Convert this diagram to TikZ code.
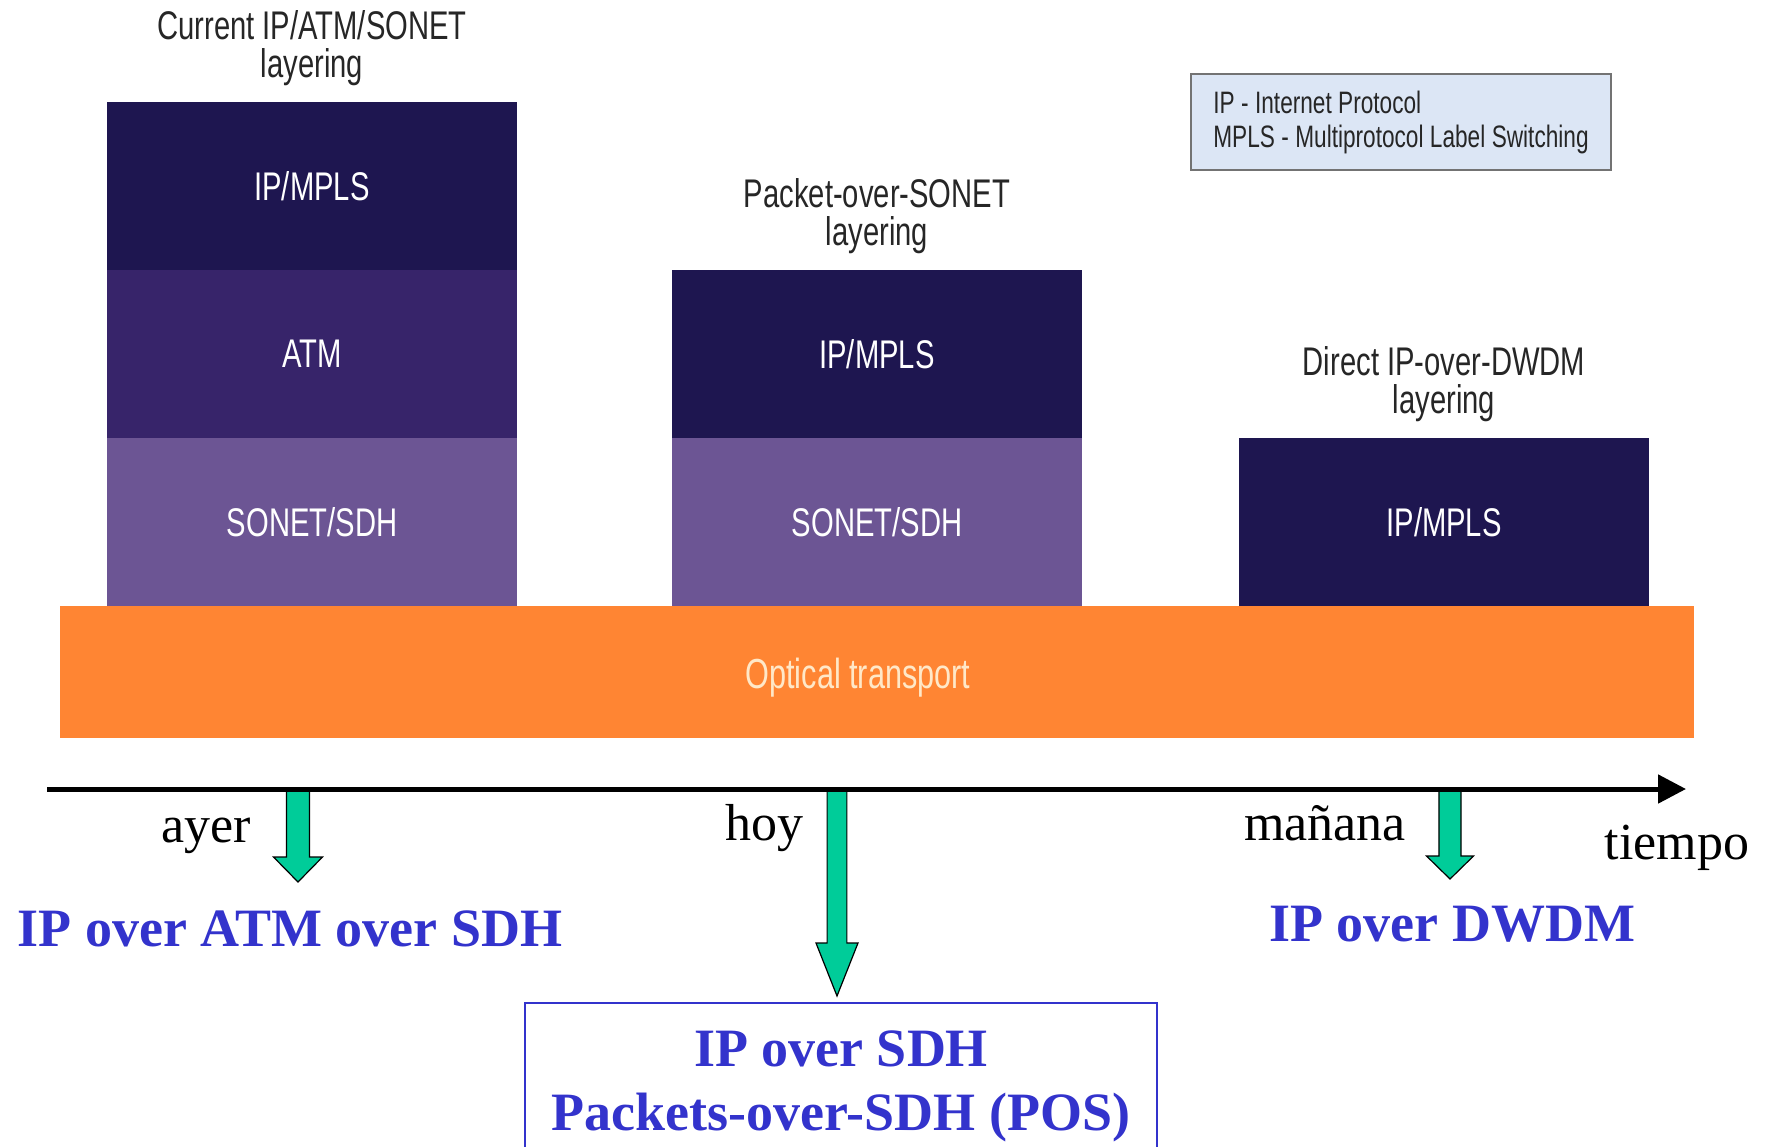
\documentclass[tikz,border=0pt]{standalone}
\usepackage{fontspec}
\setmainfont{Liberation Serif}
\newfontfamily\condsans{Liberation Sans}[FakeStretch=0.73]
\usepackage{xcolor}
\usepackage{tikz}
\usetikzlibrary{arrows.meta,positioning,calc}

\definecolor{ipcol}{HTML}{1E1650}
\definecolor{atmcol}{HTML}{37246A}
\definecolor{sdhcol}{HTML}{6C5594}
\definecolor{optcol}{HTML}{FF8533}
\definecolor{opttext}{HTML}{FFE8C8}
\definecolor{arrgreen}{HTML}{00CC99}
\definecolor{textblue}{HTML}{3333CC}
\definecolor{legendfill}{HTML}{DCE6F5}

\newcommand{\legendfont}{\condsans\fontsize{15.5}{17}\selectfont\spaceskip=3.2pt\relax}

% block arrow: start, tip, head length, head half width
\newcommand{\timearrow}[4]{%
  \draw[greenarr] ($(#1)+(-0.47*#4,0)$) -- ($(#2)+(-0.47*#4,-#3)$) -- ($(#2)+(-#4,-#3)$) -- (#2)
    -- ($(#2)+(#4,-#3)$) -- ($(#2)+(0.47*#4,-#3)$) -- ($(#1)+(0.47*#4,0)$) -- cycle;}

\begin{document}
\begin{tikzpicture}[
    x=0.5pt, y=-0.5pt,
    layer/.style={rectangle, inner sep=0pt, outer sep=0pt, minimum width=205pt, minimum height=84pt, text=white, font=\condsans\fontsize{20}{20}\selectfont},
    ip/.style={layer, fill=ipcol},
    atm/.style={layer, fill=atmcol},
    sdh/.style={layer, fill=sdhcol},
    optical/.style={rectangle, inner sep=0pt, minimum width=817pt, minimum height=66pt, fill=optcol},
    optlabel/.style={inner sep=0pt, text=opttext, font=\condsans\fontsize{21}{21}\selectfont},
    caption/.style={align=center, inner sep=0pt, text=black!85, font=\condsans\fontsize{20}{19}\selectfont},
    legend/.style={rectangle, draw=black!55, line width=1pt, fill=legendfill, align=left, minimum width=210pt, minimum height=48pt, text=black!85, font=\legendfont},
    when/.style={inner sep=0pt, font=\fontsize{26}{26}\selectfont},
    result/.style={inner sep=0pt, align=center, text=textblue, font=\bfseries\fontsize{27}{32}\selectfont},
    greenarr/.style={fill=arrgreen, draw=black, line width=0.6pt},
    axis/.style={line width=2.5pt, -{Triangle[length=14pt,width=14pt]}}
]
\useasboundingbox (0,0) rectangle (1765,1146);

\node[optical, anchor=north west] (opt) at (60,606) {};
\node[optlabel] (optlbl) at (858,678) {Optical transport};

\node[sdh, anchor=south west] (sdh1) at (107,606) {SONET/SDH};
\node[atm, above=0pt of sdh1] (atm1) {ATM};
\node[ip, above=0pt of atm1] (ip1) {IP/MPLS};
\node[caption, above=8pt of ip1] (cap1) {Current IP/ATM/SONET\\layering};

\node[sdh, anchor=south west] (sdh2) at (672,606) {SONET/SDH};
\node[ip, above=0pt of sdh2] (ip2) {IP/MPLS};
\node[caption, above=8pt of ip2] (cap2) {Packet-over-SONET\\layering};

\node[ip, anchor=south west] (ip3) at (1239,606) {IP/MPLS};
\node[caption, above=8pt of ip3] (cap3) {Direct IP-over-DWDM\\layering};

\node[legend, anchor=north west] (legend) at (1190,73) {IP - Internet Protocol\\MPLS - Multiprotocol Label Switching};

\coordinate (past) at (47,789);
\coordinate (future) at (1686,789);
\coordinate (ayer) at (298,789);
\coordinate (ayertip) at (298,882);
\coordinate (hoy) at (837,789);
\coordinate (hoytip) at (837,996);
\coordinate (manana) at (1450,789);
\coordinate (mananatip) at (1450,879);

\timearrow{ayer}{ayertip}{25}{24.5}
\timearrow{hoy}{hoytip}{53}{21}
\timearrow{manana}{mananatip}{23}{23.5}
\draw[axis] (past) -- (future);

\node[when, anchor=base] (ayerlbl) at (206,842) {ayer};
\node[when, anchor=base] (hoylbl) at (764,840) {hoy};
\node[when, anchor=base] (mananalbl) at (1325,840) {mañana};
\node[when, anchor=base] (tiempolbl) at (1677,859) {tiempo};

\node[result, anchor=base] (atmsdh) at (290,946) {IP over ATM over SDH};
\node[result, anchor=base] (dwdm) at (1452,941) {IP over DWDM};
\node[result, anchor=north] (pos) at (841,1030) {IP over SDH\\Packets-over-SDH (POS)};
\draw[textblue, line width=0.8pt] (525,1150) |- (1157,1003) -- (1157,1150);

\end{tikzpicture}
\end{document}
